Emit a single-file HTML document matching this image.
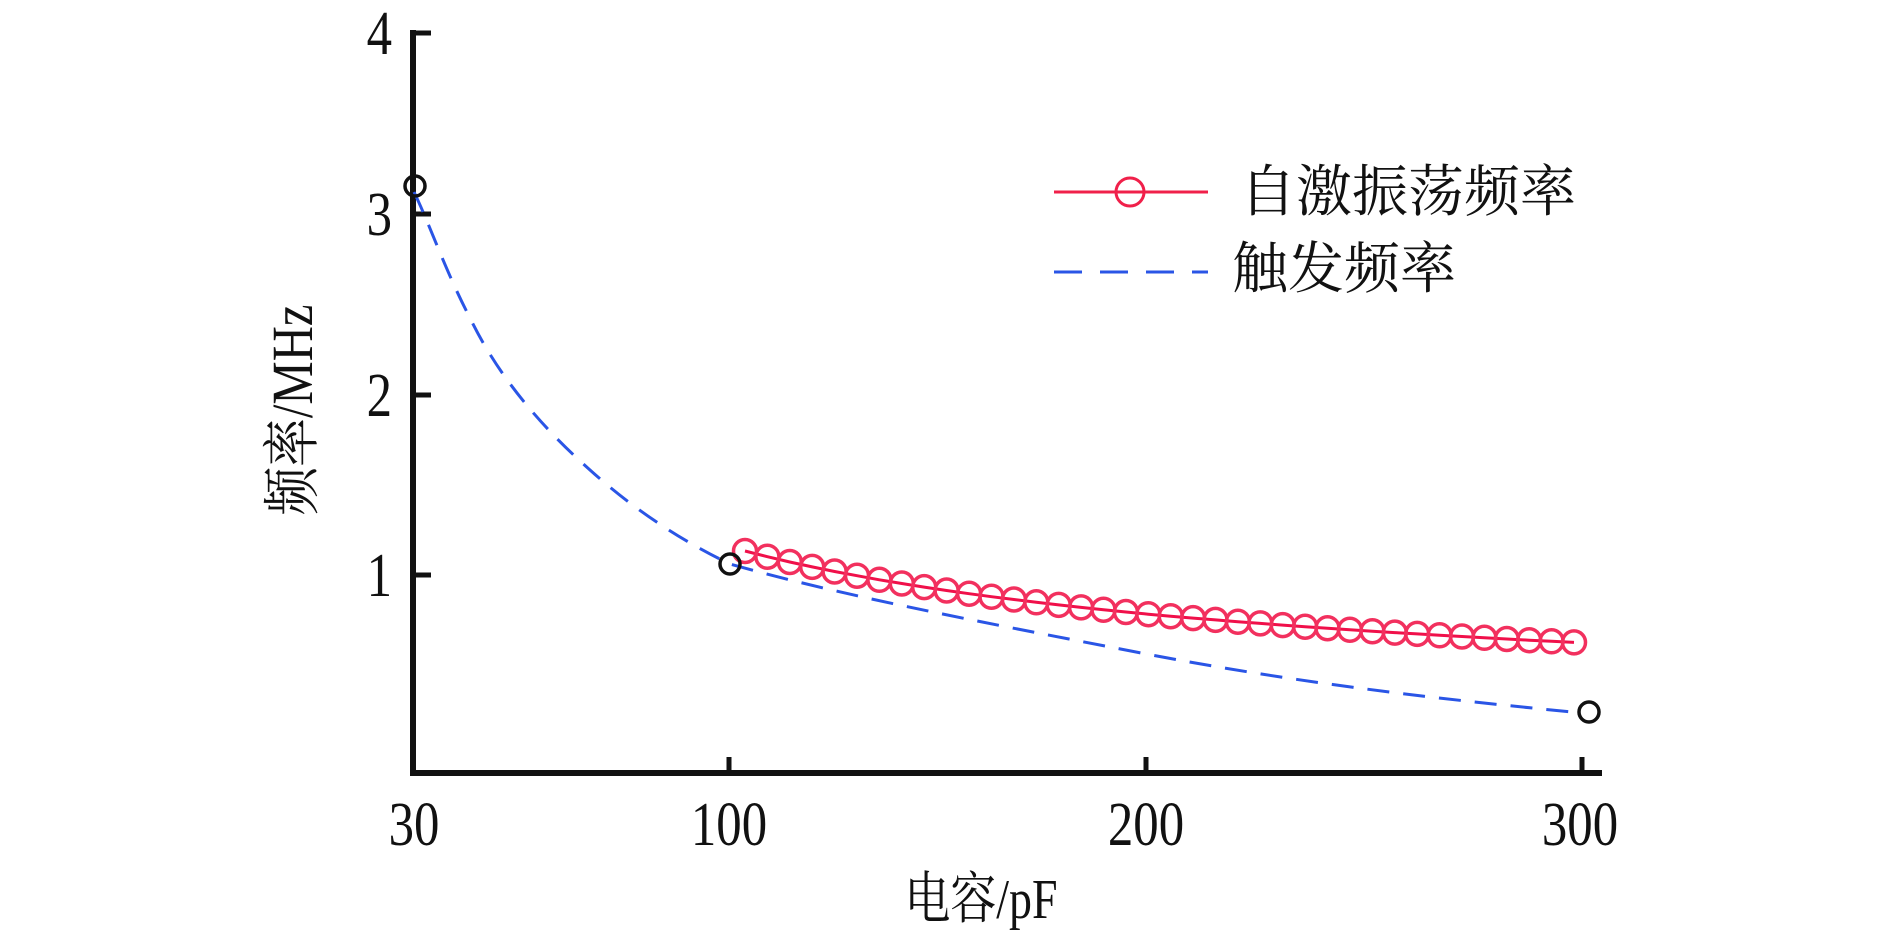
<!DOCTYPE html>
<html><head><meta charset="utf-8"><style>
html,body{margin:0;padding:0;background:#fff;}
svg{display:block;}
text{font-family:"Liberation Serif","Noto Serif CJK SC",serif;fill:#111;}
</style></head><body>
<svg id="s" width="1890" height="938" viewBox="0 0 1890 938" xmlns="http://www.w3.org/2000/svg">
<line x1="413" y1="30" x2="413" y2="776" stroke="#111" stroke-width="6"/>
<line x1="410" y1="773" x2="1602" y2="773" stroke="#111" stroke-width="6"/>
<g stroke="#111" stroke-width="5">
<line x1="413" y1="33" x2="431" y2="33"/>
<line x1="413" y1="214" x2="431" y2="214"/>
<line x1="413" y1="395" x2="431" y2="395"/>
<line x1="413" y1="575" x2="431" y2="575"/>
<line x1="729" y1="773" x2="729" y2="757"/>
<line x1="1146" y1="773" x2="1146" y2="757"/>
<line x1="1582" y1="773" x2="1582" y2="757"/>
</g>
<g font-size="62" text-anchor="end">
<text transform="translate(392,54) scale(0.82,1)">4</text>
<text transform="translate(392,235) scale(0.82,1)">3</text>
<text transform="translate(392,416) scale(0.82,1)">2</text>
<text transform="translate(392,596) scale(0.82,1)">1</text>
</g>
<g font-size="62" text-anchor="middle">
<text transform="translate(414,845) scale(0.82,1)">30</text>
<text transform="translate(729,845) scale(0.82,1)">100</text>
<text transform="translate(1146,845) scale(0.82,1)">200</text>
<text transform="translate(1580,845) scale(0.82,1)">300</text>
</g>
<text transform="translate(981,918) scale(0.82,1)" font-size="56" text-anchor="middle">电容/pF</text>
<text transform="translate(312,410) rotate(-90) scale(0.84,1)" font-size="58" text-anchor="middle">频率/MHz</text>
<path d="M414,192 C430,225 445,270 470,318 C500,380 545,430 590,470 C640,515 690,545 730,564 C840,595 960,618 1136,652 C1300,684 1450,700 1572,712" fill="none" stroke="#2a55e6" stroke-width="3" stroke-dasharray="22,14"/>
<g id="red"></g>
<g fill="none" stroke="#111" stroke-width="3.5">
<circle cx="415" cy="186" r="10"/>
<circle cx="730" cy="564" r="10"/>
<circle cx="1589" cy="712" r="10"/>
</g>
<line x1="1054" y1="192" x2="1208" y2="192" stroke="#f0204a" stroke-width="3"/>
<circle cx="1130" cy="192" r="14" fill="none" stroke="#f0204a" stroke-width="3"/>
<text x="1240" y="211" font-size="56">自激振荡频率</text>
<line x1="1054" y1="272" x2="1208" y2="272" stroke="#2a55e6" stroke-width="3" stroke-dasharray="28,18"/>
<text x="1232" y="288" font-size="56">触发频率</text>
</svg>
<script>
function xc(x){if(x<=729)return 30+(x-412)/317*70;if(x<=1146)return 100+(x-729)/4.17;return 200+(x-1146)/4.36;}
var g=document.getElementById('red'),ns='http://www.w3.org/2000/svg',pts=[];
for(var i=0;i<38;i++){var x=745+i*(1574-745)/37;var C=xc(x);var v=1.138*Math.pow(103/C,0.56);var y=756-v*181;pts.push(x.toFixed(1)+','+y.toFixed(1));}
var pl=document.createElementNS(ns,'polyline');pl.setAttribute('points',pts.join(' '));pl.setAttribute('fill','none');pl.setAttribute('stroke','#f0104a');pl.setAttribute('stroke-width','3');g.appendChild(pl);
pts.forEach(function(p){var a=p.split(',');var c=document.createElementNS(ns,'circle');c.setAttribute('cx',a[0]);c.setAttribute('cy',a[1]);c.setAttribute('r','11.5');c.setAttribute('fill','none');c.setAttribute('stroke','#f2305e');c.setAttribute('stroke-width','3.5');g.appendChild(c);});
</script>
</body></html>
